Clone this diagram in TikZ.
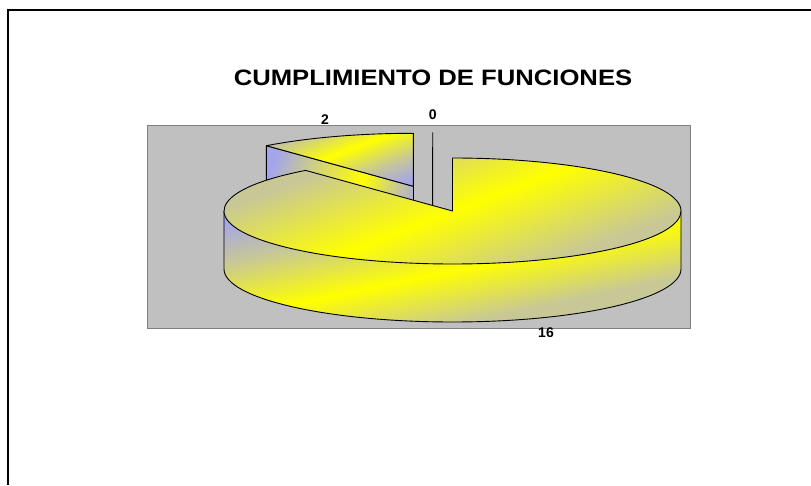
\documentclass[tikz,border=0pt]{standalone}
\usepackage{fontspec}
\setmainfont{Liberation Sans}
\usepackage{tikz}
\usetikzlibrary{calc}
\definecolor{pieblue}{RGB}{165,165,235}
\definecolor{piegray}{RGB}{200,200,150}
\definecolor{plotgray}{RGB}{192,192,192}
\pgfdeclarehorizontalshading{topshade}{100bp}{color(0bp)=(piegray); color(43bp)=(piegray); color(50bp)=(yellow); color(57bp)=(piegray); color(100bp)=(piegray)}
\pgfdeclarehorizontalshading{twoshade}{100bp}{color(0bp)=(pieblue); color(37bp)=(pieblue); color(43bp)=(piegray); color(50bp)=(yellow); color(57bp)=(piegray); color(63bp)=(pieblue); color(100bp)=(pieblue)}
\pgfdeclarehorizontalshading{sideshade}{100bp}{color(0bp)=(pieblue); color(42bp)=(pieblue); color(45.5bp)=(piegray); color(50bp)=(yellow); color(54.5bp)=(piegray); color(100bp)=(piegray)}
\pgfdeclarehorizontalshading{faceshade}{100bp}{color(0bp)=(pieblue); color(27bp)=(pieblue); color(37bp)=(piegray); color(55bp)=(yellow); color(66bp)=(piegray); color(74bp)=(pieblue); color(100bp)=(pieblue)}

\begin{document}
\begin{tikzpicture}[x=1pt, y=1pt, edge/.style={draw=black, line width=0.9pt, line join=round}, lbl/.style={font=\fontsize{14}{16}\selectfont\bfseries, inner sep=0pt}]
  \useasboundingbox (0,0) rectangle (811,485);
  \draw[line width=2pt] (811,475) -- (8,475) -- (8,0);
  \draw[fill=plotgray, draw=gray] (147,157) rectangle (690,360);
  \node[inner sep=0pt] (title) at (433,407) {\scalebox{1.15}[1]{\fontsize{22.3}{26}\selectfont\bfseries CUMPLIMIENTO DE FUNCIONES}};
  \node[lbl] (two) at (325,365) {2};
  \node[lbl] (zero) at (432.7,370) {0};
  \node[lbl] (sixteen) at (546,152) {16};
  \coordinate (c) at (452.5,274);
  \coordinate (d) at (413.3,298.7);
  \coordinate (r) at ($(c)+(130:228.5 and 53)$);
  \coordinate (s) at ($(d)+(130:228.5 and 53)$);
  \begin{scope}
    \clip (d) -- (s) -- ++(0,-58) -- ($(d)+(0,-58)$) -- cycle;
    \shade[shading=faceshade, shading angle=-20] (260,210) rectangle (420,370);
  \end{scope}
  \draw[edge] (d) -- (s) -- ++(0,-58);
  \draw[edge] ($(d)+(0,53)$) -- ($(d)+(0,-58)$);
  \begin{scope}
    \clip (d) -- (s) arc[start angle=130, end angle=90, x radius=228.5, y radius=53] -- cycle;
    \shade[shading=twoshade, shading angle=-69] (260,240) rectangle (460,440);
  \end{scope}
  \draw[edge] (d) -- (s) arc[start angle=130, end angle=90, x radius=228.5, y radius=53] -- cycle;
  \draw[edge] (432.7,352.7) -- ($(c)!0.135!(r)$);
  \begin{scope}
    \clip ($(c)+(-228.5,0)$) arc[start angle=180, end angle=360, x radius=228.5, y radius=53] -- ++(0,-58) arc[start angle=360, end angle=180, x radius=228.5, y radius=53] -- cycle;
    \shade[shading=sideshade, shading angle=-78] (152,-85.4) rectangle (752,514.6);
  \end{scope}
  \draw[edge] ($(c)+(-228.5,0)$) -- ++(0,-58) arc[start angle=180, end angle=360, x radius=228.5, y radius=53] -- ++(0,58);
  \begin{scope}
    \clip (c) -- (r) arc[start angle=130, end angle=450, x radius=228.5, y radius=53] -- cycle;
    \shade[shading=topshade, shading angle=-69] (152.5,-26) rectangle (752.5,574);
  \end{scope}
  \draw[edge] (c) -- (r) arc[start angle=130, end angle=450, x radius=228.5, y radius=53] -- cycle;
\end{tikzpicture}
\end{document}
